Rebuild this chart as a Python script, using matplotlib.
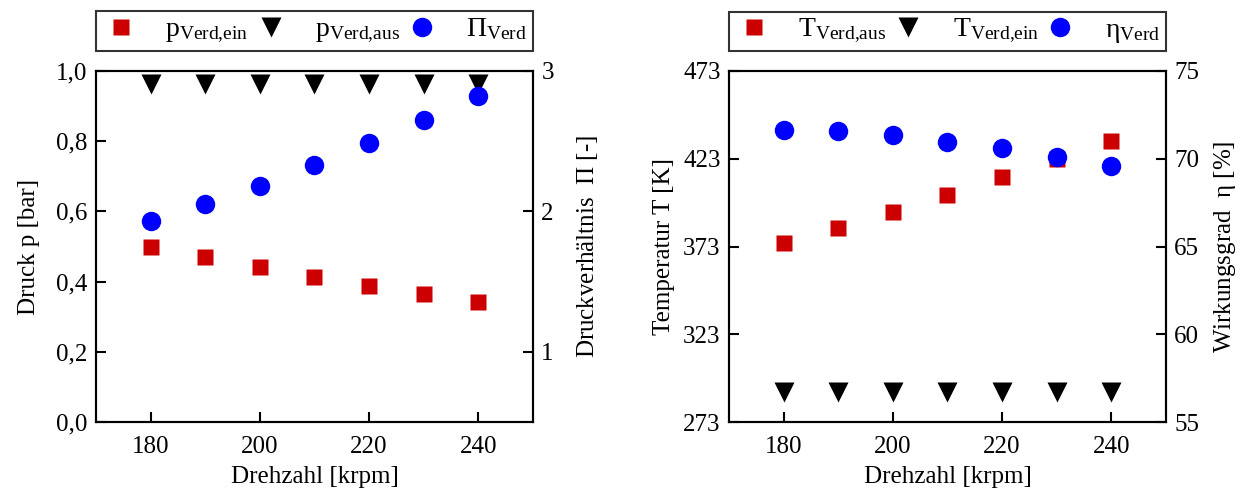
import matplotlib
matplotlib.use("Agg")
import matplotlib.pyplot as plt
from matplotlib.ticker import FuncFormatter

# Schriften
plt.rcParams['font.family'] = ['Liberation Serif', 'DejaVu Serif']
plt.rcParams['mathtext.fontset'] = 'custom'
plt.rcParams['mathtext.rm'] = 'Liberation Serif'
plt.rcParams['mathtext.it'] = 'Liberation Serif'
plt.rcParams['font.size'] = 18
plt.rcParams['axes.linewidth'] = 1.5
plt.rcParams['xtick.direction'] = 'in'
plt.rcParams['ytick.direction'] = 'in'

# Daten
drehzahl = [180, 190, 200, 210, 220, 230, 240]
p_ein = [0.500, 0.470, 0.442, 0.414, 0.388, 0.365, 0.343]
p_aus = [0.963, 0.963, 0.963, 0.963, 0.963, 0.963, 0.963]
pi_verd = [1.93, 2.05, 2.18, 2.33, 2.49, 2.65, 2.82]

T_aus = [375.0, 383.7, 392.8, 402.6, 412.7, 423.0, 433.3]
T_ein = [290, 290, 290, 290, 290, 290, 290]
eta_verd = [71.66, 71.58, 71.33, 70.95, 70.61, 70.12, 69.59]

x_ticks = [180, 200, 220, 240]
p_ticks = [0.0, 0.2, 0.4, 0.6, 0.8, 1.0]
pi_ticks = [1, 2, 3]
T_ticks = [273, 323, 373, 423, 473]
eta_ticks = [55, 60, 65, 70, 75]

ROT = '#cc0000'
BLAU = '#0000ff'

fig = plt.figure(figsize=(12.45, 4.96), dpi=100)
ax1 = fig.add_axes([0.0771, 0.149, 0.351, 0.708])
ax2 = ax1.twinx()
ax3 = fig.add_axes([0.5855, 0.149, 0.351, 0.708])
ax4 = ax3.twinx()

komma = FuncFormatter(lambda v, pos: f"{v:.1f}".replace('.', ','))


def achsen_stil(ax, rechts=False):
    ax.tick_params(direction='in', length=7, width=1.5, labelsize=18, pad=6)
    ax.tick_params(axis='x', top=False, pad=10)
    if rechts:
        ax.tick_params(axis='y', left=False, right=True)


def legende(ax, handles):
    leg = ax.legend(handles=handles, loc='lower left', bbox_to_anchor=(0, 1.057, 1, 0.1),
                    mode='expand', ncol=3, frameon=True, fancybox=False,
                    edgecolor='black', borderaxespad=0, handletextpad=0.9,
                    handlelength=1.4, fontsize=20, borderpad=0.2)
    leg.get_frame().set_linewidth(1.5)


# --- Druck ---
h1, = ax1.plot(drehzahl, p_ein, 's', color=ROT, ms=12, mec='none',
               label=r'$\mathrm{p_{Verd{,}ein}}$')
h2, = ax1.plot(drehzahl, p_aus, 'v', color='black', ms=15, mec='none',
               label=r'$\mathrm{p_{Verd{,}aus}}$')
h3, = ax2.plot(drehzahl, pi_verd, 'o', color=BLAU, ms=14, mec='none',
               label=r'$\mathrm{\Pi_{Verd}}$')
ax1.set_xlim(170, 250)
ax1.set_ylim(0, 1)
ax1.set_xticks(x_ticks)
ax1.set_yticks(p_ticks)
ax1.yaxis.set_major_formatter(komma)
ax2.set_ylim(0.5, 3)
ax2.set_yticks(pi_ticks)
ax1.set_xlabel('Drehzahl [krpm]', labelpad=6)
ax1.set_ylabel('Druck p [bar]', labelpad=12)
ax2.set_ylabel(r'Druckverhältnis  $\mathrm{\Pi}$ [-]', labelpad=15)
achsen_stil(ax1)
achsen_stil(ax2, rechts=True)
legende(ax1, [h1, h2, h3])

# --- Temperatur ---
g1, = ax3.plot(drehzahl, T_aus, 's', color=ROT, ms=12, mec='none',
               label=r'$\mathrm{T_{Verd{,}aus}}$')
g2, = ax3.plot(drehzahl, T_ein, 'v', color='black', ms=15, mec='none',
               label=r'$\mathrm{T_{Verd{,}ein}}$')
g3, = ax4.plot(drehzahl, eta_verd, 'o', color=BLAU, ms=14, mec='none',
               label=r'$\mathrm{\eta_{Verd}}$')
ax3.set_xlim(170, 250)
ax3.set_ylim(273, 473)
ax3.set_xticks(x_ticks)
ax3.set_yticks(T_ticks)
ax4.set_ylim(55, 75)
ax4.set_yticks(eta_ticks)
ax3.set_xlabel('Drehzahl [krpm]', labelpad=6)
ax3.set_ylabel('Temperatur T [K]', labelpad=6)
ax4.set_ylabel(r'Wirkungsgrad  $\mathrm{\eta}$ [%]', labelpad=9)
achsen_stil(ax3)
achsen_stil(ax4, rechts=True)
legende(ax3, [g1, g2, g3])

fig.savefig('out.png', dpi=100)
